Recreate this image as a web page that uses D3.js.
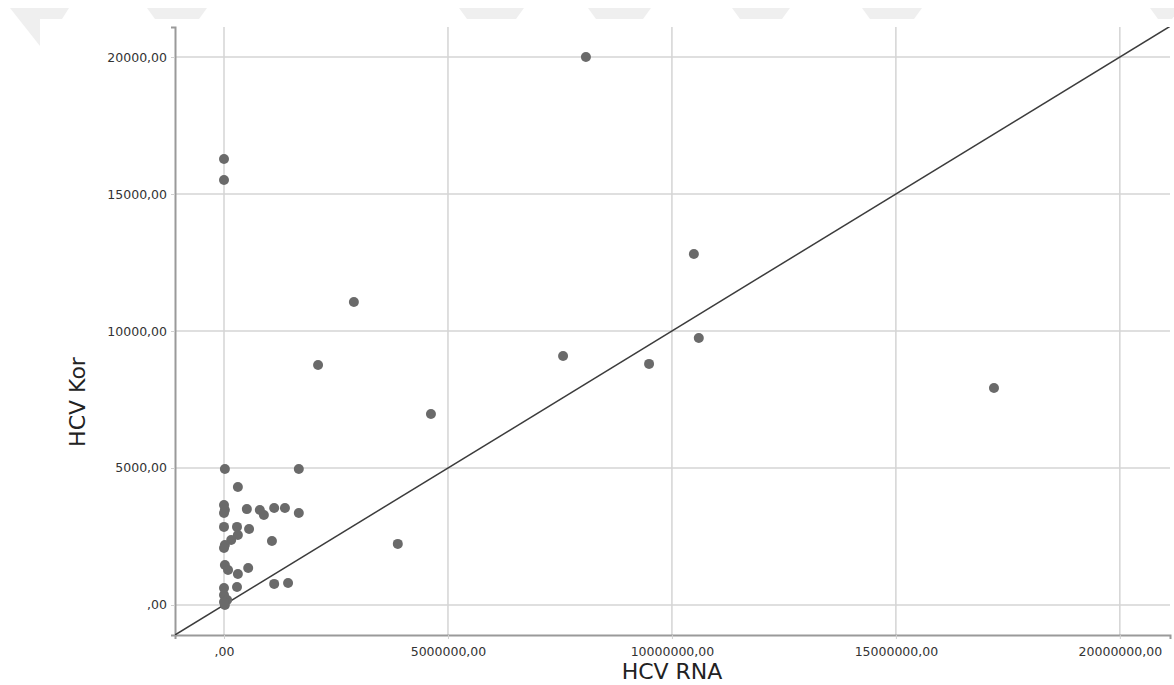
<!DOCTYPE html>
<html>
<head>
<meta charset="utf-8">
<script src="https://cdn.jsdelivr.net/npm/d3@7/dist/d3.min.js"></script>
<style>
  html, body { margin: 0; padding: 0; background: #fff; }
  svg { display: block; }
</style>
</head>
<body>
<svg id="chart" width="1174" height="685"></svg>
<script>
// ---- data (HCV RNA, HCV Kor) ----
const hcvRna = [
  8080000, 0, 0, 10490000, 2900000, 10600000, 7570000, 9490000, 2100000, 4620000,
  17190000, 3880000, 20000, 1670000, 310000, 0, 20000, 0, 510000, 800000,
  890000, 1120000, 1360000, 1670000, 0, 290000, 560000, 310000, 160000, 20000,
  1070000, 0, 20000, 90000, 310000, 540000, 290000, 0, 1120000, 1430000,
  0, 70000, 20000, 0
];
const hcvKor = [
  20000, 16280, 15510, 12810, 11060, 9745, 9090, 8800, 8760, 6970,
  7920, 2230, 4965, 4965, 4305, 3650, 3470, 3360, 3500, 3470,
  3285, 3540, 3540, 3360, 2850, 2850, 2775, 2555, 2370, 2190,
  2335, 2080, 1460, 1280, 1130, 1350, 660, 620, 770, 800,
  365, 180, 0, 110
];
const xTicks = [0, 5000000, 10000000, 15000000, 20000000];
const yTicks = [0, 5000, 10000, 15000, 20000];
const xTitle = "HCV RNA";
const yTitle = "HCV Kor";

// ---- layout ----
const pLeft = 175, pRight = 1170, pTop = 27, pBottom = 635;
const svg = d3.select("#chart");

// faint watermark band at the top of the page (decoration)
const wm = svg.append("g").attr("fill", "#efefef");
wm.append("polygon").attr("points", "10,8 69,8 62,19 40,19 40,46");
[[147,207],[459,524],[588,651],[732,790],[862,922],[1150,1180]].forEach(([a,b]) => {
  wm.append("polygon").attr("points", `${a},8 ${b},8 ${b-8},19 ${a+8},19`);
});

const x = d3.scaleLinear().domain([-1094000, 21120000]).range([pLeft, pRight]);
const y = d3.scaleLinear().domain([-1095, 21095]).range([pBottom, pTop]);

const fmt = v => v === 0 ? ",00" : d3.format(".2f")(v).replace(".", ",");

// grid lines
const grid = svg.append("g").attr("stroke", "#d4d4d4").attr("stroke-width", 1.5);
grid.selectAll(".vg").data(xTicks).join("line")
  .attr("x1", d => x(d)).attr("x2", d => x(d))
  .attr("y1", pTop).attr("y2", pBottom);
grid.selectAll(".hg").data(yTicks).join("line")
  .attr("x1", pLeft).attr("x2", pRight)
  .attr("y1", d => y(d)).attr("y2", d => y(d));

// axes
const xAxis = d3.axisBottom(x).tickValues(xTicks).tickFormat(fmt).tickSize(4).tickPadding(8);
const yAxis = d3.axisLeft(y).tickValues(yTicks).tickFormat(fmt).tickSize(4).tickPadding(4);

const gx = svg.append("g").attr("transform", `translate(0,${pBottom})`).call(xAxis);
const gy = svg.append("g").attr("transform", `translate(${pLeft},0)`).call(yAxis);
[gx, gy].forEach(g => {
  g.select(".domain").attr("stroke", "#9a9a9a").attr("stroke-width", 2);
  g.selectAll(".tick line").attr("stroke", "#d0d0d0");
  g.selectAll(".tick text")
    .attr("fill", "#333")
    .style("font-family", "'DejaVu Sans', sans-serif")
    .style("font-size", "12.5px");
});

// reference line y = x / 1000
svg.append("defs").append("clipPath").attr("id", "plotClip")
  .append("rect").attr("x", pLeft).attr("y", pTop).attr("width", pRight - pLeft).attr("height", pBottom - pTop);
const xd = x.domain();
svg.append("line")
  .attr("clip-path", "url(#plotClip)")
  .attr("x1", x(xd[0])).attr("y1", y(xd[0] / 1000))
  .attr("x2", x(xd[1])).attr("y2", y(xd[1] / 1000))
  .attr("stroke", "#3c3c3c").attr("stroke-width", 1.5);

// points
const pts = hcvRna.map((v, i) => [v, hcvKor[i]]);
svg.append("g").selectAll("circle").data(pts).join("circle")
  .attr("cx", d => x(d[0])).attr("cy", d => y(d[1]))
  .attr("r", 5).attr("fill", "#6a6a6a");

// axis titles
svg.append("text")
  .attr("x", 672).attr("y", 679)
  .attr("text-anchor", "middle")
  .attr("fill", "#222")
  .style("font-family", "'DejaVu Sans', sans-serif")
  .style("font-size", "22px")
  .text(xTitle);
svg.append("text")
  .attr("transform", `translate(85,402) rotate(-90)`)
  .attr("text-anchor", "middle")
  .attr("fill", "#222")
  .style("font-family", "'DejaVu Sans', sans-serif")
  .style("font-size", "22px")
  .text(yTitle);
</script>
</body>
</html>
